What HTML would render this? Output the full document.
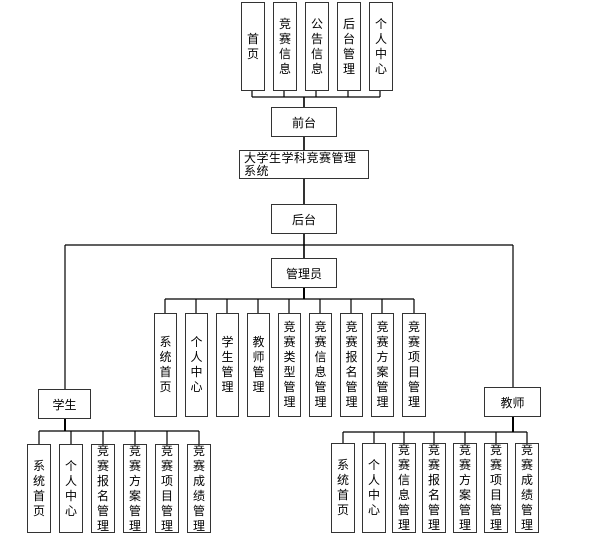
<!DOCTYPE html>
<html><head><meta charset="utf-8"><style>
html,body{margin:0;padding:0;background:#fff;}
body{width:601px;height:539px;position:relative;overflow:hidden;font-family:"Liberation Sans","Noto Sans CJK SC",sans-serif;font-size:12px;color:#000;}
.b{position:absolute;box-sizing:border-box;border:1.5px solid #333;background:#fff;display:flex;align-items:center;justify-content:center;text-align:center;}
.v{line-height:15px;}
svg{position:absolute;left:0;top:0;}
</style></head><body>
<svg width="601" height="539" stroke="#000" stroke-width="1.2" fill="none">
<!-- top -->
<path d="M252 91V97M284 91V97M316 91V97M348 91V97M380 91V97M252 97H380"/>
<path d="M304 97V107M304 137V150M304 179V204M304 234V258" stroke-width="1.6"/>
<path d="M65 245H513M65 245V389M513 245V387"/>
<!-- admin -->
<path d="M304 288V299" stroke-width="2"/>
<path d="M165 299H414M165 299V313M196 299V313M227 299V313M258 299V313M289 299V313M320 299V313M351 299V313M382 299V313M414 299V313"/>
<!-- student -->
<path d="M65 419V431" stroke-width="2"/>
<path d="M39 431H199M39 431V444M71 431V444M103 431V444M135 431V444M167 431V444M199 431V444"/>
<!-- teacher -->
<path d="M513 417V432" stroke-width="2"/>
<path d="M343 432H527M343 432V443M374 432V443M404 432V443M434 432V443M465 432V443M496 432V443M527 432V443"/>
</svg>

<div class="b v" style="left:241px;top:2px;width:24px;height:89px">首<br>页</div>
<div class="b v" style="left:273px;top:2px;width:24px;height:89px">竞<br>赛<br>信<br>息</div>
<div class="b v" style="left:305px;top:2px;width:24px;height:89px">公<br>告<br>信<br>息</div>
<div class="b v" style="left:337px;top:2px;width:24px;height:89px">后<br>台<br>管<br>理</div>
<div class="b v" style="left:369px;top:2px;width:24px;height:89px">个<br>人<br>中<br>心</div>

<div class="b" style="left:271px;top:107px;width:66px;height:30px">前台</div>
<div class="b" style="left:239px;top:150px;width:130px;height:29px;display:block;text-align:left;padding:1px 4px;line-height:13px;letter-spacing:0.5px">大学生学科竞赛管理系统</div>
<div class="b" style="left:271px;top:204px;width:66px;height:30px">后台</div>
<div class="b" style="left:271px;top:258px;width:66px;height:30px">管理员</div>

<div class="b v" style="left:154px;top:313px;width:23px;height:104px">系<br>统<br>首<br>页</div>
<div class="b v" style="left:185px;top:313px;width:23px;height:104px">个<br>人<br>中<br>心</div>
<div class="b v" style="left:216px;top:313px;width:23px;height:104px">学<br>生<br>管<br>理</div>
<div class="b v" style="left:247px;top:313px;width:23px;height:104px">教<br>师<br>管<br>理</div>
<div class="b v" style="left:278px;top:313px;width:23px;height:104px">竞<br>赛<br>类<br>型<br>管<br>理</div>
<div class="b v" style="left:309px;top:313px;width:23px;height:104px">竞<br>赛<br>信<br>息<br>管<br>理</div>
<div class="b v" style="left:340px;top:313px;width:23px;height:104px">竞<br>赛<br>报<br>名<br>管<br>理</div>
<div class="b v" style="left:371px;top:313px;width:23px;height:104px">竞<br>赛<br>方<br>案<br>管<br>理</div>
<div class="b v" style="left:402px;top:313px;width:24px;height:104px">竞<br>赛<br>项<br>目<br>管<br>理</div>

<div class="b" style="left:38px;top:389px;width:53px;height:30px">学生</div>
<div class="b" style="left:484px;top:387px;width:57px;height:30px">教师</div>

<div class="b v" style="left:27px;top:444px;width:24px;height:89px">系<br>统<br>首<br>页</div>
<div class="b v" style="left:59px;top:444px;width:24px;height:89px">个<br>人<br>中<br>心</div>
<div class="b v" style="left:91px;top:444px;width:24px;height:89px">竞<br>赛<br>报<br>名<br>管<br>理</div>
<div class="b v" style="left:123px;top:444px;width:24px;height:89px">竞<br>赛<br>方<br>案<br>管<br>理</div>
<div class="b v" style="left:155px;top:444px;width:24px;height:89px">竞<br>赛<br>项<br>目<br>管<br>理</div>
<div class="b v" style="left:187px;top:444px;width:24px;height:89px">竞<br>赛<br>成<br>绩<br>管<br>理</div>

<div class="b v" style="left:331px;top:443px;width:24px;height:90px">系<br>统<br>首<br>页</div>
<div class="b v" style="left:362px;top:443px;width:24px;height:90px">个<br>人<br>中<br>心</div>
<div class="b v" style="left:392px;top:443px;width:24px;height:90px">竞<br>赛<br>信<br>息<br>管<br>理</div>
<div class="b v" style="left:422px;top:443px;width:24px;height:90px">竞<br>赛<br>报<br>名<br>管<br>理</div>
<div class="b v" style="left:453px;top:443px;width:24px;height:90px">竞<br>赛<br>方<br>案<br>管<br>理</div>
<div class="b v" style="left:484px;top:443px;width:24px;height:90px">竞<br>赛<br>项<br>目<br>管<br>理</div>
<div class="b v" style="left:515px;top:443px;width:24px;height:90px">竞<br>赛<br>成<br>绩<br>管<br>理</div>
</body></html>
